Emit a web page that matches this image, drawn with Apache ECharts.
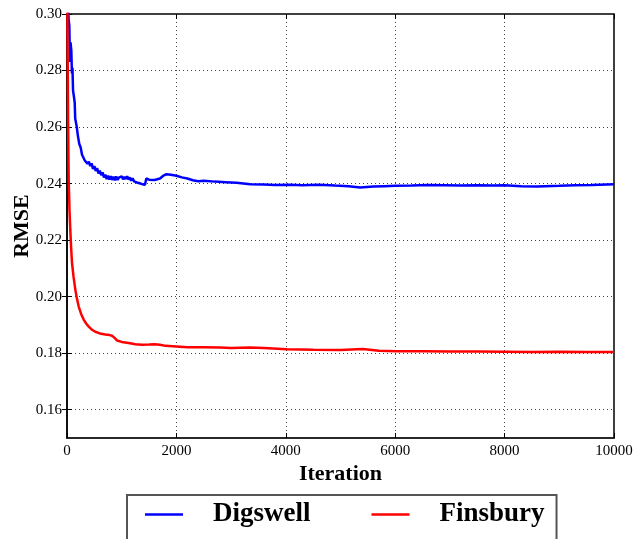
<!DOCTYPE html>
<html>
<head>
<meta charset="utf-8">
<script src="https://cdn.jsdelivr.net/npm/echarts@6/dist/echarts.min.js"></script>
<style>
html,body{margin:0;padding:0;background:#fff;}
#chart{width:634px;height:539px;}
</style>
</head>
<body>
<div id="chart"></div>
<script>
// ---- data ----
const seriesNames = ['Digswell', 'Finsbury'];
const yTicks = [0.16, 0.18, 0.20, 0.22, 0.24, 0.26, 0.28, 0.30];

const digswellIter = [0, 15, 30, 42, 55, 65, 79, 90, 100, 110, 125, 141,
  150, 175, 200, 225, 250, 275, 300, 325, 350, 375, 400, 425, 450, 475, 500, 525, 550, 575, 600, 625, 650, 675, 700, 725, 750, 775, 800, 825, 850, 875, 900, 925, 950, 975, 1000, 1025, 1050, 1075, 1100, 1125, 1150, 1175, 1200, 1225, 1250, 1275, 1300, 1325, 1350, 1375, 1400, 1425, 1450,
  1500, 1600, 1700, 1760, 1820, 1900, 2000, 2100, 2200, 2300, 2400, 2500, 2700, 2900, 3100, 3350, 3600, 3800, 4080, 4300, 4600, 4900, 5150, 5360, 5600, 5800, 6000, 6300, 6600, 6900, 7200, 7500, 7800, 8000, 8300, 8600, 9000, 9300, 9600, 10000];
const digswellRmse = [0.330, 0.305, 0.298, 0.296, 0.283, 0.290, 0.287, 0.279, 0.281, 0.273, 0.271, 0.2686,
  0.2630, 0.2605, 0.2568, 0.2540, 0.2528, 0.2502, 0.2500, 0.2482, 0.2488, 0.2470, 0.2478, 0.2462, 0.2472, 0.2452, 0.2462, 0.2445, 0.2455, 0.2436, 0.2446, 0.2430, 0.2440, 0.2422, 0.2432, 0.2416, 0.2428, 0.2414, 0.2426, 0.2413, 0.2424, 0.2412, 0.2425, 0.2413, 0.2421, 0.2414, 0.2426, 0.2415, 0.2424, 0.2416, 0.2426, 0.2414, 0.2422, 0.2410, 0.2419, 0.2408, 0.2415, 0.2404, 0.2410, 0.2401, 0.2406, 0.2398, 0.2402, 0.2396, 0.2418,
  0.2414, 0.2413, 0.2418, 0.2428, 0.2433, 0.2431, 0.2428, 0.2422, 0.2418, 0.2412, 0.2408, 0.2410, 0.2407, 0.2405, 0.2403, 0.2398, 0.2397, 0.2395, 0.2396, 0.2394, 0.2396, 0.2393, 0.2391, 0.2386, 0.2390, 0.2391, 0.2392, 0.2393, 0.2395, 0.2394, 0.2393, 0.2394, 0.2393, 0.2394, 0.2391, 0.2390, 0.2392, 0.2394, 0.2395, 0.2398];

const finsburyIter = [0, 10, 20, 31, 45, 60, 75, 91, 120, 152, 180, 214, 260, 305, 350, 397, 450, 517, 600, 700, 780, 823, 860, 914, 1000, 1128, 1250, 1371, 1500, 1600, 1700, 1800, 2000, 2200, 2500, 2800, 3000, 3345, 3600, 4020, 4500, 5000, 5410, 5700, 6030, 6500, 7000, 7500, 8000, 8500, 9000, 9500, 10000];
const finsburyRmse = [0.330, 0.290, 0.262, 0.2413, 0.231, 0.2237, 0.2175, 0.212, 0.207, 0.2025, 0.1995, 0.1965, 0.1938, 0.1919, 0.1905, 0.1894, 0.1884, 0.1876, 0.1870, 0.1866, 0.1864, 0.1862, 0.1856, 0.1845, 0.1840, 0.1836, 0.1832, 0.1830, 0.1831, 0.1832, 0.1830, 0.1826, 0.1824, 0.1821, 0.1821, 0.1820, 0.1818, 0.1820, 0.1818, 0.1814, 0.1812, 0.1811, 0.1815, 0.1809, 0.1807, 0.1807, 0.1806, 0.1806, 0.1805, 0.1804, 0.1805, 0.1804, 0.1804];

const pairs = (xs, ys) => xs.map((x, i) => [x, ys[i]]);

const serif = '"Liberation Serif", "Times New Roman", serif';
const chart = echarts.init(document.getElementById('chart'), null, {renderer: 'canvas'});

const gridLine = {show: true, lineStyle: {color: '#444', width: 1, type: [1, 3]}};
const tickIn = {show: true, inside: true, length: 5, lineStyle: {color: '#000', width: 1}};

chart.setOption({
  backgroundColor: '#fff',
  animation: false,
  grid: {left: 67, right: 20, top: 14, bottom: 101, show: true, borderColor: '#000', borderWidth: 1.5,
    backgroundColor: 'transparent', containLabel: false, outerBoundsMode: 'none'},
  xAxis: [{
    type: 'value', min: 0, max: 10000, interval: 2000,
    name: 'Iteration', nameLocation: 'middle', nameGap: 25, nameMoveOverlap: false,
    nameTextStyle: {fontFamily: serif, fontSize: 22, fontWeight: 'bold', color: '#000'},
    axisLine: {show: true, lineStyle: {color: '#222', width: 1.5}},
    axisTick: tickIn,
    axisLabel: {fontFamily: serif, fontSize: 15, color: '#000', margin: 6, formatter: v => String(v)},
    splitLine: gridLine
  }, {
    type: 'value', min: 0, max: 10000, interval: 2000, position: 'top',
    axisLine: {show: false}, axisTick: tickIn, axisLabel: {show: false}, splitLine: {show: false}
  }],
  yAxis: [{
    type: 'value', min: 0.15, max: 0.30,
    name: 'RMSE', nameLocation: 'middle', nameGap: 34, nameMoveOverlap: false,
    nameTextStyle: {fontFamily: serif, fontSize: 22, fontWeight: 'bold', color: '#000'},
    axisLine: {show: true, lineStyle: {color: '#000', width: 1.5}},
    axisTick: Object.assign({}, tickIn, {customValues: yTicks}),
    axisLabel: {fontFamily: serif, fontSize: 15, color: '#000', margin: 5, customValues: yTicks,
      formatter: v => v.toFixed(2)},
    splitLine: gridLine
  }, {
    type: 'value', min: 0.15, max: 0.30, position: 'right',
    axisLine: {show: false},
    axisTick: Object.assign({}, tickIn, {customValues: yTicks}),
    axisLabel: {show: false, customValues: yTicks}, splitLine: {show: false}
  }],
  legend: {
    left: 127, top: 495,
    orient: 'horizontal',
    data: seriesNames,
    icon: 'rect',
    itemWidth: 38, itemHeight: 2.5,
    itemGap: 61,
    padding: [6, 12, 24, 18],
    borderColor: '#555', borderWidth: 2, borderRadius: 0,
    backgroundColor: '#fff',
    textStyle: {fontFamily: serif, fontSize: 27, fontWeight: 'bold', color: '#000', padding: [0, 0, 0, 25]}
  },
  series: [{
    name: seriesNames[0], type: 'line', xAxisIndex: 0, yAxisIndex: 0,
    data: pairs(digswellIter, digswellRmse),
    showSymbol: false, symbol: 'none', clip: true,
    lineStyle: {color: '#0000ff', width: 2.5}, itemStyle: {color: '#0000ff'}
  }, {
    name: seriesNames[1], type: 'line', xAxisIndex: 0, yAxisIndex: 0,
    data: pairs(finsburyIter, finsburyRmse),
    showSymbol: false, symbol: 'none', clip: true,
    lineStyle: {color: '#ff0000', width: 2.5}, itemStyle: {color: '#ff0000'}
  }]
});
</script>
</body>
</html>
